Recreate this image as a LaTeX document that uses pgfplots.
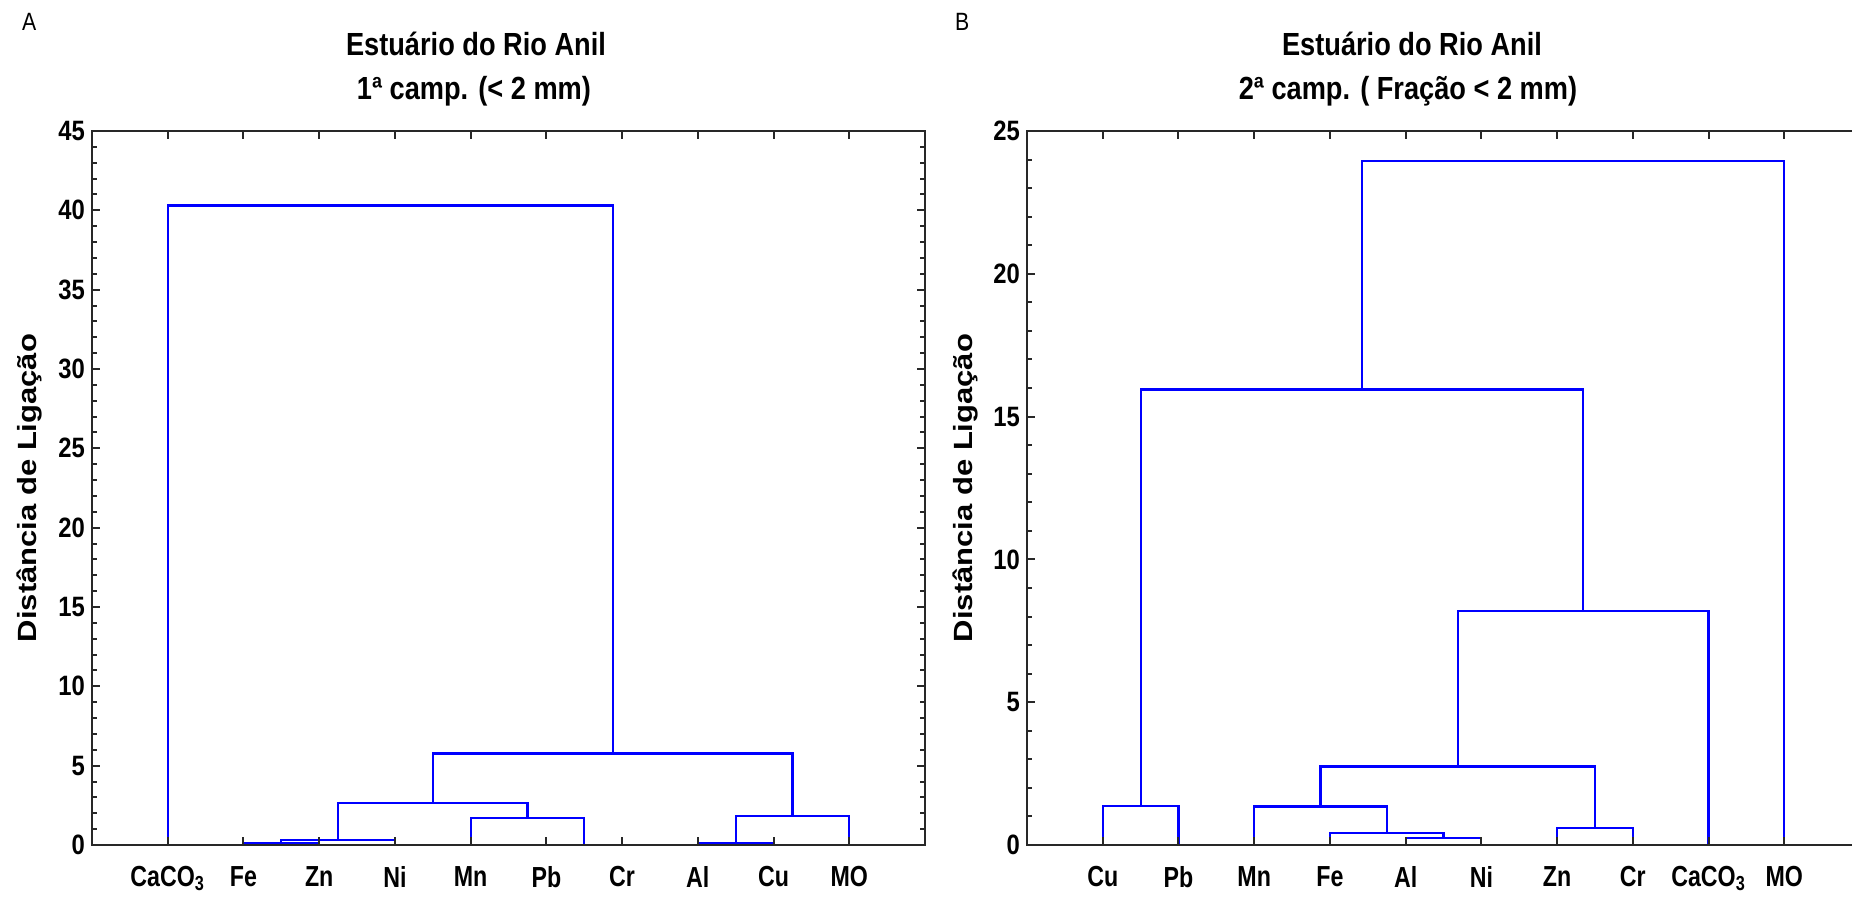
\documentclass[border=0pt]{standalone}
\usepackage{pgfplots}
\pgfplotsset{compat=1.18}
\usepackage{fontspec}
\setmainfont{Liberation Sans}
\newfontfamily\narrowsans{Liberation Sans}[FakeStretch=0.85]
\newfontfamily\narrowersans{Liberation Sans}[FakeStretch=0.8]

\definecolor{dendro}{RGB}{0,0,255}
\definecolor{frame}{RGB}{40,40,40}

\pgfplotsset{
  dendro axis/.style={
    scale only axis, width=416.5pt, height=357pt,
    anchor=south west,
    xmin=0, xmax=11, ymin=0,
    xtick={1,...,10},
    minor y tick num=4,
    tick align=inside,
    axis on top,
    major tick length=4pt, minor tick length=2.5pt,
    axis line style={frame, line width=1.2pt},
    every tick/.append style={frame, line width=1pt},
    /pgf/number format/assume math mode=true,
    yticklabel style={font=\narrowsans\bfseries\fontsize{14}{16}\selectfont},
    xticklabel style={font=\narrowersans\bfseries\fontsize{14.5}{16}\selectfont, yshift=-7pt},
    ylabel style={font=\bfseries\fontsize{15.5}{18}\selectfont, at={(axis description cs:-0.075,0.5)}, anchor=center},
    ylabel={\scalebox{1}[0.85]{Distância de Ligação}},
    clip=false,
  },
  link/.style={dendro, line width=1.1pt, mark=none},
}

\begin{document}
\begin{tikzpicture}[x=1pt,y=1pt]
% ---------------- Panel A: first campaign ----------------
\begin{axis}[dendro axis, at={(46pt,27pt)},
  ymax=45, ytick={0,5,...,45},
  xticklabels={CaCO\textsubscript{3},Fe,Zn,Ni,Mn,Pb,Cr,Al,Cu,MO}]
  \addplot[link] coordinates {(2,0) (2,0.12) (3,0.12) (3,0)};
  \addplot[link] coordinates {(2.5,0.12) (2.5,0.3) (4,0.3) (4,0)};
  \addplot[link] coordinates {(6,0) (7,0)};
  \addplot[link] coordinates {(5,0) (5,1.7) (6.5,1.7) (6.5,0)};
  \addplot[link] coordinates {(3.25,0.3) (3.25,2.65) (5.75,2.65) (5.75,1.7)};
  \addplot[link] coordinates {(8,0) (8,0.1) (9,0.1) (9,0)};
  \addplot[link] coordinates {(8.5,0.1) (8.5,1.85) (10,1.85) (10,0)};
  \addplot[link] coordinates {(4.5,2.65) (4.5,5.77) (9.25,5.77) (9.25,1.85)};
  \addplot[link] coordinates {(1,0) (1,40.3) (6.875,40.3) (6.875,5.77)};
\end{axis}

% ---------------- Panel B: second campaign ----------------
\begin{axis}[dendro axis, at={(513.5pt,27pt)},
  ylabel style={at={(axis description cs:-0.0744,0.5)}},
  ymax=25, ytick={0,5,...,25},
  xticklabels={Cu,Pb,Mn,Fe,Al,Ni,Zn,Cr,CaCO\textsubscript{3},MO}]
  \addplot[link] coordinates {(1,0) (1,1.37) (2,1.37) (2,0)};
  \addplot[link] coordinates {(5,0) (5,0.24) (6,0.24) (6,0)};
  \addplot[link] coordinates {(4,0) (4,0.42) (5.5,0.42) (5.5,0.24)};
  \addplot[link] coordinates {(3,0) (3,1.35) (4.75,1.35) (4.75,0.42)};
  \addplot[link] coordinates {(7,0) (7,0.6) (8,0.6) (8,0)};
  \addplot[link] coordinates {(3.875,1.35) (3.875,2.75) (7.5,2.75) (7.5,0.6)};
  \addplot[link] coordinates {(5.6875,2.75) (5.6875,8.2) (9,8.2) (9,0)};
  \addplot[link] coordinates {(1.5,1.37) (1.5,15.95) (7.34375,15.95) (7.34375,8.2)};
  \addplot[link] coordinates {(4.42,15.95) (4.42,23.95) (10,23.95) (10,0)};
\end{axis}

% titles and panel letters
\node[anchor=base west, font=\narrowsans\fontsize{12.5}{14}\selectfont] at (7.5pt,434pt) {A};
\node[anchor=base west, font=\narrowsans\fontsize{12.5}{14}\selectfont] at (474pt,434pt) {B};
\node[anchor=base, font=\narrowsans\bfseries\fontsize{16}{19}\selectfont] at (238pt,421.75pt) {Estuário do Rio Anil};
\node[anchor=base, font=\narrowsans\bfseries\fontsize{16}{19}\selectfont] at (237pt,399.5pt) {1ª camp. (< 2 mm)};
\node[anchor=base, font=\narrowsans\bfseries\fontsize{16}{19}\selectfont] at (706pt,421.75pt) {Estuário do Rio Anil};
\node[anchor=base, font=\narrowsans\bfseries\fontsize{16}{19}\selectfont] at (704pt,399.5pt) {2ª camp. ( Fração < 2 mm)};

\pgfresetboundingbox
\path[use as bounding box] (0,0) rectangle (926pt,449.5pt);
\end{tikzpicture}
\end{document}
